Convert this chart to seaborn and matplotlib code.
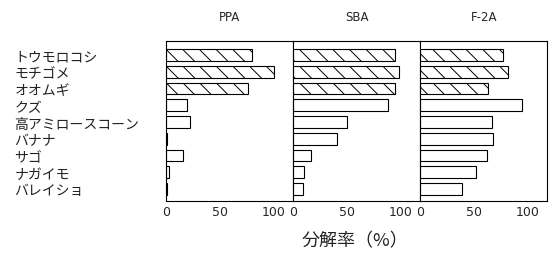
import matplotlib
matplotlib.use("Agg")
import matplotlib.pyplot as plt
import seaborn as sns
import pandas as pd

categories = ["トウモロコシ", "モチゴメ", "オオムギ", "クズ", "高アミロースコーン",
              "バナナ", "サゴ", "ナガイモ", "バレイショ"]
panels = ["PPA", "SBA", "F-2A"]
ppa = [80, 100, 76, 20, 22, 0.8, 16, 2.5, 1]
sba = [95, 98, 95, 88, 50, 41, 17, 10, 9]
f2a = [77, 82, 63, 95, 67, 68, 62, 52, 39]
xticks = [0, 50, 100]
xlabel = "分解率（%）"
hatched = 3

sns.set_theme(style="white")
plt.rcParams['font.family'] = ['Noto Sans CJK JP', 'DejaVu Sans']
plt.rcParams['hatch.linewidth'] = 0.7

fig, axes = plt.subplots(1, 3, figsize=(5.55, 2.55), dpi=100, sharey=True)
fig.subplots_adjust(left=0.299, right=0.986, top=0.835, bottom=0.208, wspace=0)

for ax, name, vals in zip(axes, panels, [ppa, sba, f2a]):
    df = pd.DataFrame({"cat": categories, "val": vals})
    sns.barplot(data=df, x="val", y="cat", order=categories, ax=ax, orient="h",
                color="white", edgecolor="black", linewidth=0.8, width=0.7,
                saturation=1)
    for i, p in enumerate(ax.patches):
        p.set_facecolor("white")
        p.set_edgecolor("black")
        if i < hatched:
            p.set_hatch("\\\\")
    ax.set_xlim(0, 118)
    ax.set_ylim(8.72, -0.84)
    ax.set_xticks(xticks)
    ax.set_xticklabels([str(t) for t in xticks], fontsize=9, family=['DejaVu Sans'])
    ax.tick_params(axis='x', length=0, pad=3)
    ax.set_xlabel("")
    ax.set_ylabel("")
    ax.set_title(name, fontsize=8.5, pad=15, family=['DejaVu Sans'])
    for s in ax.spines.values():
        s.set_color("black")
        s.set_linewidth(0.8)

axes[0].tick_params(axis='y', length=0, pad=109)
axes[0].set_yticks(range(len(categories)))
axes[0].set_yticklabels(categories, fontsize=10, ha='left', color='#222222')
for ax in axes[1:]:
    ax.tick_params(axis='y', left=False, labelleft=False)

fig.text(0.64, 0.055, xlabel, ha='center', va='center', fontsize=13, color='#222222')

fig.savefig("out.png", dpi=100)
